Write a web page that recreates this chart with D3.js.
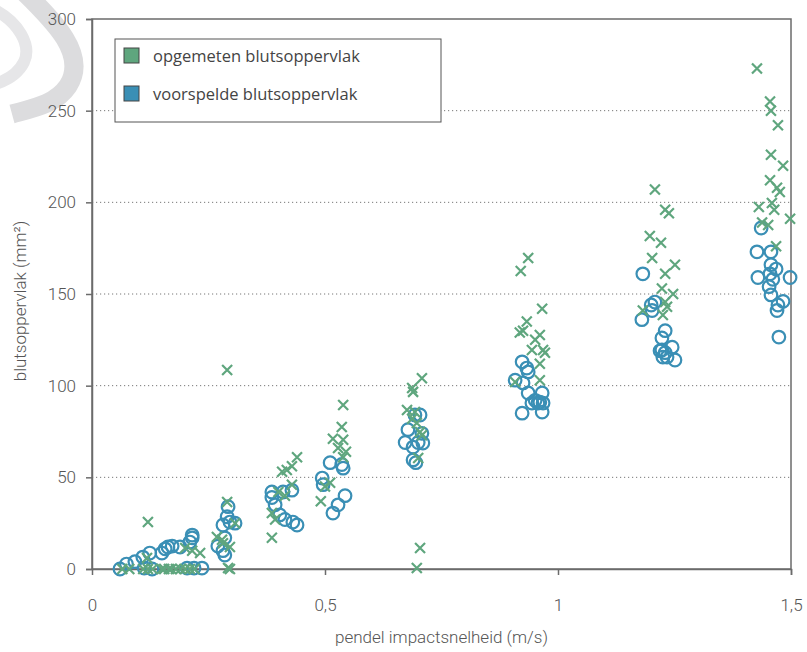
<!DOCTYPE html>
<html>
<head>
<meta charset="utf-8">
<script src="https://cdn.jsdelivr.net/npm/d3@7"></script>
<style>
  body { margin: 0; background: #fff; }
</style>
</head>
<body>
<div id="chart"></div>
<script>
// measured values: [snelheid m/s, oppervlak mm²]
const gemeten = [
  [0.065,0],[0.08,0],[0.11,0],[0.12,0],[0.13,0],[0.15,0],[0.155,0],[0.165,0],[0.17,0],
  [0.18,0],[0.19,0],[0.2,0],[0.21,0],[0.22,0],
  [0.12,25.6],[0.118,6],[0.2,11.5],[0.215,10],[0.232,8.7],
  [0.29,36.5],[0.268,17.5],[0.279,16],[0.281,14],[0.296,12],[0.307,25],[0.292,0.5],[0.296,0],[0.29,108.5],
  [0.386,17],[0.386,30.5],[0.393,27],[0.408,53],[0.418,54],[0.429,56],[0.44,61],[0.429,46],[0.414,40],[0.4,42],
  [0.539,89.5],[0.536,77.5],[0.517,71],[0.539,70.5],[0.528,66],[0.545,64],[0.539,61],[0.511,47],[0.5,45],[0.491,37],
  [0.708,104],[0.687,98.7],[0.689,96.6],[0.676,86.7],[0.693,85.6],[0.687,82],[0.697,79.6],[0.704,74.7],[0.708,73],
  [0.7,60.5],[0.704,11.5],[0.697,0.5],
  [0.936,169.6],[0.92,162.5],[0.966,142],[0.933,135],[0.925,130],[0.918,129],[0.961,127.6],[0.951,125],
  [0.944,119.5],[0.968,119.5],[0.972,118],[0.961,112],[0.961,103],[0.908,102],
  [1.208,207],[1.23,196],[1.238,194],[1.197,181.6],[1.221,178],[1.202,169.6],[1.251,166],[1.23,161],
  [1.223,153],[1.247,150],[1.23,145.6],[1.234,143],[1.182,141],[1.225,138.5],
  [1.427,273],[1.455,255],[1.457,250],[1.472,242],[1.457,226],[1.483,220],[1.455,212],[1.47,208],
  [1.476,205.6],[1.431,197.5],[1.459,199.6],[1.464,196],[1.498,191],[1.438,189],[1.451,187.6],[1.468,176]
];

// predicted values
const voorspeld = [
  [0.06,0],[0.074,2.7],[0.092,4],[0.109,6.5],[0.124,8.7],[0.112,0.5],[0.129,0],[0.15,8.7],[0.157,11],
  [0.163,12],[0.172,12.5],[0.189,12],[0.21,14.7],[0.215,17],[0.215,18.5],[0.204,0.5],[0.219,0.5],[0.236,0.5],
  [0.27,12.5],[0.285,17],[0.281,24],[0.29,28.5],[0.292,34],[0.285,7.6],[0.281,10],[0.307,25],[0.296,25.6],
  [0.386,42],[0.386,39],[0.393,35],[0.403,29.5],[0.414,27],[0.431,25.6],[0.44,24],[0.429,43],[0.41,42],
  [0.511,58],[0.536,57],[0.539,55],[0.494,49.6],[0.496,46],[0.543,40],[0.528,35],[0.517,30.5],
  [0.693,84],[0.704,84],[0.678,76],[0.672,69],[0.689,66.5],[0.7,69],[0.708,74],[0.71,68.7],[0.689,59.5],[0.695,58],
  [0.923,113],[0.933,109.6],[0.936,107.5],[0.908,103],[0.925,101.5],[0.936,96],[0.951,92],[0.961,91],
  [0.968,90.5],[0.966,96],[0.944,90.5],[0.923,85],[0.966,85.6],[0.957,90.5],
  [1.182,161],[1.208,145.6],[1.2,144],[1.202,141],[1.18,136],[1.23,130],[1.223,126],[1.223,119.5],
  [1.23,118],[1.245,121],[1.251,114],[1.234,115.6],[1.225,115.6],[1.219,119],
  [1.436,186],[1.427,173],[1.457,173],[1.457,166],[1.468,163.6],[1.429,159],[1.498,159],[1.455,161],
  [1.461,158],[1.453,154],[1.457,149.5],[1.483,146],[1.472,144],[1.47,141],[1.474,126.5]
];

const xTicks = [0, 0.5, 1, 1.5];
const yTicks = [0, 50, 100, 150, 200, 250, 300];
const legendItems = ["opgemeten blutsoppervlak", "voorspelde blutsoppervlak"];

const green = "#5fa67e";
const blue = "#3a8fb5";

const width = 807, height = 652;
const margin = {top: 19, right: 16, bottom: 83, left: 92};
const innerWidth = width - margin.left - margin.right;
const innerHeight = height - margin.top - margin.bottom;

const svg = d3.select("#chart")
  .append("svg")
  .attr("width", width)
  .attr("height", height);

// grey watermark hook in the corner
svg.append("path")
  .attr("d", "M 22 -10 C 55 22, 88 55, 68 86 C 56 104, 34 108, 12 114")
  .attr("fill", "none")
  .attr("stroke", "#dcdcde")
  .attr("stroke-width", 19);
svg.append("path")
  .attr("d", "M -5 10 C 18 22, 32 45, 24 62 C 18 74, 8 80, -5 84")
  .attr("fill", "none")
  .attr("stroke", "#e6e6e8")
  .attr("stroke-width", 12);

const g = svg.append("g")
  .attr("transform", `translate(${margin.left},${margin.top})`);

const xScale = d3.scaleLinear().domain([0, 1.5]).range([0, innerWidth]);
const yScale = d3.scaleLinear().domain([0, 300]).range([innerHeight, 0]);

// dotted gridlines
g.selectAll(".grid")
  .data(yTicks.filter(d => d > 0 && d < 300))
  .join("line")
  .attr("x1", 0).attr("x2", innerWidth)
  .attr("y1", d => yScale(d)).attr("y2", d => yScale(d))
  .attr("stroke", "#777")
  .attr("stroke-width", 1)
  .attr("stroke-dasharray", "1.2,2.8");

// frame
g.append("rect")
  .attr("width", innerWidth).attr("height", innerHeight)
  .attr("fill", "none")
  .attr("stroke", "#6b6b6b")
  .attr("stroke-width", 1.5);

const yAxis = d3.axisLeft(yScale).tickValues(yTicks).tickSize(6).tickPadding(10);
const xAxis = d3.axisBottom(xScale).tickValues(xTicks).tickSize(6).tickPadding(24)
  .tickFormat(d => String(d).replace(".", ","));

const ya = g.append("g").call(yAxis);
const xa = g.append("g").attr("transform", `translate(0,${innerHeight})`).call(xAxis);
[ya, xa].forEach(a => {
  a.select(".domain").attr("stroke", "#6b6b6b").attr("stroke-width", 1.5);
  a.selectAll(".tick line").attr("stroke", "#6b6b6b").attr("stroke-width", 1.5);
  a.selectAll("text")
    .attr("fill", "#555")
    .attr("font-family", "Roboto, sans-serif")
    .attr("font-weight", 300)
    .attr("font-size", 17);
});
xa.selectAll(".tick").filter(d => d === 0).select("line").remove();

// markers
g.selectAll(".voorspeld")
  .data(voorspeld)
  .join("circle")
  .attr("cx", d => xScale(d[0]))
  .attr("cy", d => yScale(d[1]))
  .attr("r", 6.3)
  .attr("fill", "none")
  .attr("stroke", blue)
  .attr("stroke-width", 2.2);

const s = 5;
g.selectAll(".gemeten")
  .data(gemeten)
  .join("path")
  .attr("d", d => {
    const x = xScale(d[0]), y = yScale(d[1]);
    return `M${x - s},${y - s}L${x + s},${y + s}M${x - s},${y + s}L${x + s},${y - s}`;
  })
  .attr("stroke", green)
  .attr("stroke-width", 2.2)
  .attr("fill", "none");

// legend
const legend = g.append("g").attr("transform", "translate(23,20)");
legend.append("rect")
  .attr("width", 326).attr("height", 83)
  .attr("fill", "#fff")
  .attr("stroke", "#555")
  .attr("stroke-width", 1);
legend.selectAll(".sw")
  .data(legendItems)
  .join("rect")
  .attr("x", 9).attr("y", (d, i) => 9 + i * 38)
  .attr("width", 15).attr("height", 15)
  .attr("fill", (d, i) => i === 0 ? green : blue)
  .attr("stroke", "#444")
  .attr("stroke-width", 1);
legend.selectAll(".lt")
  .data(legendItems)
  .join("text")
  .attr("x", 38).attr("y", (d, i) => 23 + i * 38)
  .attr("fill", "#444")
  .attr("font-family", "'Open Sans', sans-serif")
  .attr("font-size", 16.5)
  .text(d => d);

// axis titles
svg.append("text")
  .attr("x", margin.left + innerWidth / 2)
  .attr("y", 643)
  .attr("text-anchor", "middle")
  .attr("fill", "#555")
  .attr("font-family", "Roboto, sans-serif")
  .attr("font-weight", 300)
  .attr("font-size", 17)
  .text("pendel impactsnelheid (m/s)");

svg.append("text")
  .attr("transform", `translate(26,${margin.top + innerHeight / 2 + 7}) rotate(-90)`)
  .attr("text-anchor", "middle")
  .attr("fill", "#555")
  .attr("font-family", "Roboto, sans-serif")
  .attr("font-weight", 300)
  .attr("font-size", 17)
  .text("blutsoppervlak (mm²)");
</script>
</body>
</html>
